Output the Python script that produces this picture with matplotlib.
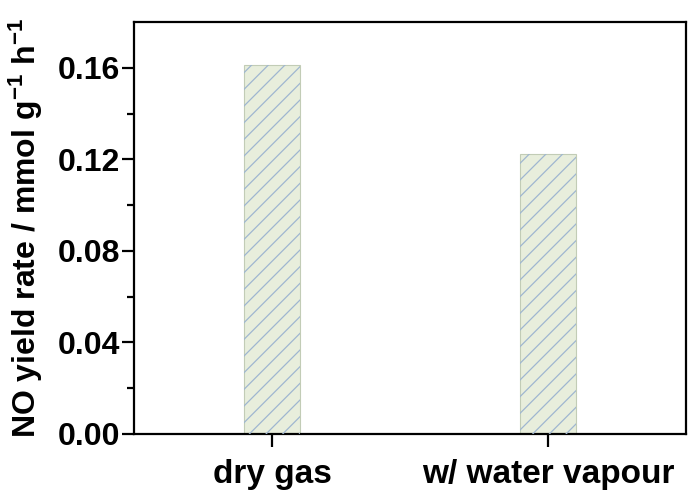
import matplotlib
matplotlib.use("Agg")
import matplotlib.pyplot as plt
import numpy as np

conditions = ["dry gas", "w/ water vapour"]
yield_rate = [0.161, 0.1225]
yticks = [0.00, 0.04, 0.08, 0.12, 0.16]

plt.rcParams.update({
    "font.family": "Liberation Sans",
    "font.weight": "bold",
    "mathtext.fontset": "custom",
    "mathtext.rm": "Liberation Sans:bold",
    "mathtext.default": "rm",
    "hatch.linewidth": 0.9,
})

fig = plt.figure(figsize=(6.89, 4.93), dpi=100)
ax = fig.add_axes([0.1945, 0.1197, 0.8011, 0.8357])

x = np.arange(len(conditions))
# pale fill with a thin outline, then the blue-grey hatching on top
ax.bar(x, yield_rate, width=0.2, color="#e8eedc", edgecolor="#c2ccb6",
       linewidth=0.8, zorder=2)
ax.bar(x, yield_rate, width=0.2, fill=False, edgecolor="#9fb6d0",
       linewidth=0, hatch="//", zorder=3)

ax.set_xlim(-0.5, 1.5)
ax.set_ylim(0, 0.18)
ax.set_xticks(x)
ax.set_xticklabels(conditions, fontsize=24, fontweight="bold")
ax.set_yticks(yticks)
ax.set_yticklabels([f"{v:.2f}" for v in yticks], fontsize=23, fontweight="bold")
ax.set_yticks(np.arange(0.02, 0.18, 0.04), minor=True)

ax.tick_params(axis="both", which="major", direction="out", length=9, width=1.6)
ax.tick_params(axis="y", which="minor", direction="out", length=5, width=1.6)
ax.tick_params(axis="x", pad=9)
ax.tick_params(axis="y", pad=1)
for sp in ax.spines.values():
    sp.set_linewidth(1.6)

ax.set_ylabel(r"NO yield rate / mmol g$^{-1}$ h$^{-1}$", fontsize=23,
              fontweight="bold")
ax.yaxis.set_label_coords(-0.162, 0.5)

fig.savefig("out.png", dpi=100)
